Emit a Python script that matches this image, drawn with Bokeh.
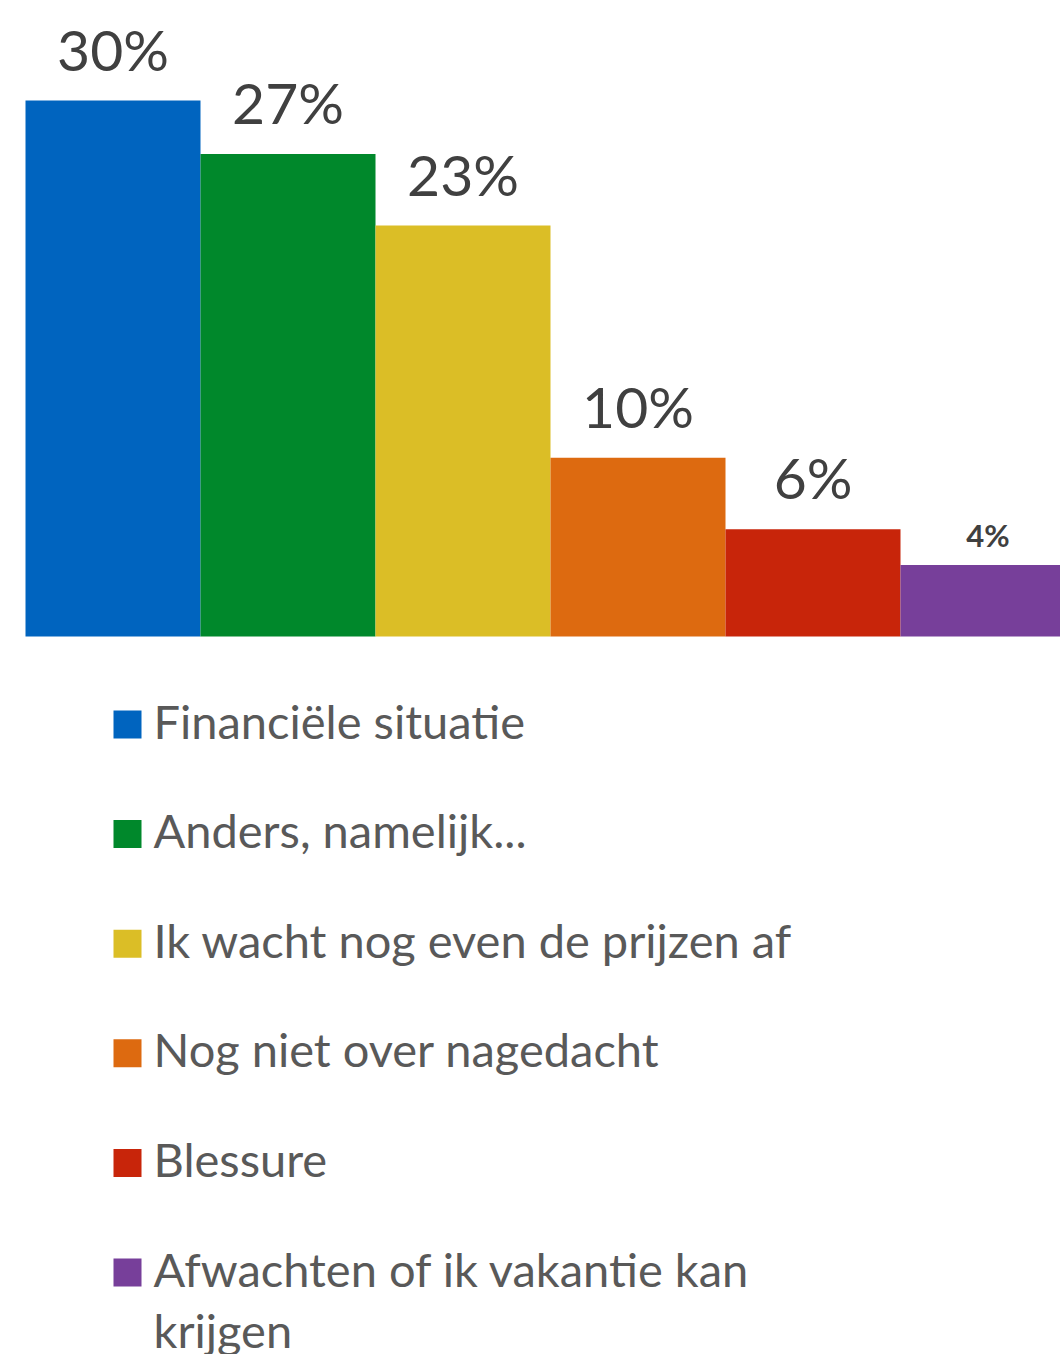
from bokeh.plotting import figure
from bokeh.models import ColumnDataSource, LabelSet, Range1d
from bokeh.core.properties import value
from bokeh.embed import file_html
from bokeh.resources import INLINE

categories = ["Financiële situatie", "Anders, namelijk...", "Ik wacht nog even de prijzen af",
              "Nog niet over nagedacht", "Blessure", "Afwachten of ik vakantie kan\nkrijgen"]
values = [30, 27, 23, 10, 6, 4]
value_labels = ["30%", "27%", "23%", "10%", "6%", "4%"]
colors = ["#0064BF", "#00882B", "#DBBE26", "#DD6A10", "#C8250A", "#773F9A"]

W, H = 1060, 1354
bar_px = 175.0           # pixels per category
left_px = 25.0           # left offset of first bar
base_px = 636.0          # baseline of bars from top
px_per_unit = 536.0 / 30.0

x0 = -0.5 - left_px / bar_px
x1 = x0 + W / bar_px
y1 = base_px / px_per_unit
y0 = y1 - H / px_per_unit

p = figure(width=W, height=H, output_backend="svg", toolbar_location=None,
           x_range=Range1d(x0, x1), y_range=Range1d(y0, y1),
           min_border=0, min_border_left=0, min_border_right=0,
           min_border_top=0, min_border_bottom=0)
p.xaxis.visible = False
p.yaxis.visible = False
p.grid.visible = False
p.outline_line_color = None
p.background_fill_color = "white"
p.border_fill_color = "white"

idx = list(range(len(values)))
src = ColumnDataSource(dict(x=idx, top=values, color=colors, lab=value_labels,
                            big=[l if v >= 5 else "" for l, v in zip(value_labels, values)],
                            small=[l if v < 5 else "" for l, v in zip(value_labels, values)]))
p.vbar(x="x", top="top", bottom=0, width=1.0, color="color", line_color=None, source=src)

big = LabelSet(x="x", y="top", text="big", source=src, text_align="center",
               text_baseline="alphabetic", y_offset=30, text_font=value("Lato"),
               text_font_size="57px", text_color="#404040")
small = LabelSet(x="x", y="top", text="small", source=src, text_align="center",
                 text_baseline="alphabetic", y_offset=18, text_font=value("Lato"),
                 text_font_size="31px", text_font_style="bold", text_color="#404040")
p.add_layout(big)
p.add_layout(small)

# legend (manual layout)
row0_px = 724.0
row_step = 109.6
def px_to_y(py):
    return (base_px - py) / px_per_unit
def px_to_x(px):
    return x0 + px / bar_px

leg_y = [px_to_y(row0_px + row_step * i) for i in idx]
leg_ty = [px_to_y(row0_px + row_step * i - 32.0) for i in idx]
leg = ColumnDataSource(dict(y=leg_y, ty=leg_ty, color=colors, name=categories,
                            x=[px_to_x(127.0)] * len(idx), tx=[px_to_x(153.0)] * len(idx)))
p.scatter(x="x", y="y", marker="square", size=28, color="color", line_color=None, source=leg)
p.text(x="tx", y="ty", text="name", source=leg, text_font=value("Lato"),
       text_font_size="47px", text_color="#595959", text_baseline="top",
       text_align="left", text_line_height=1.1)

open("out.html", "w").write(file_html(p, INLINE))
